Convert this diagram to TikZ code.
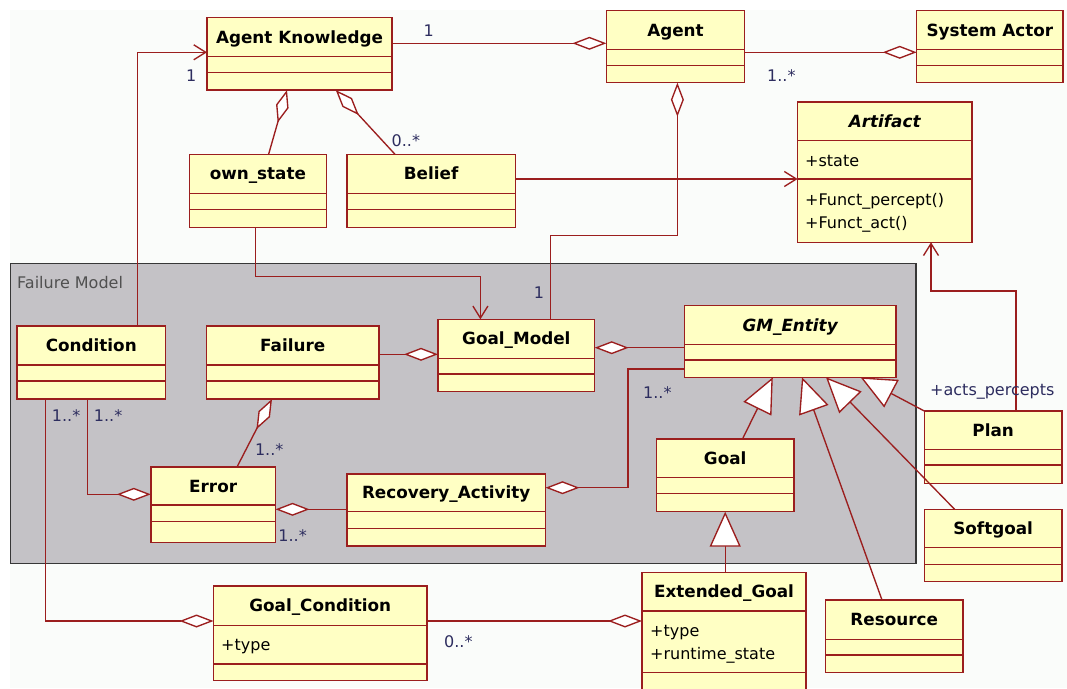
\documentclass[tikz,border=0pt]{standalone}
\usepackage{fontspec}
\setmainfont{DejaVu Sans}
\usetikzlibrary{arrows.meta}

\definecolor{umlred}{RGB}{155,30,30}
\definecolor{umlfill}{RGB}{255,255,196}
\definecolor{pkgfill}{RGB}{196,194,198}
\definecolor{pkgline}{RGB}{55,55,55}
\definecolor{pkgtext}{RGB}{80,80,80}
\definecolor{multc}{RGB}{45,45,95}
\definecolor{paper}{RGB}{250,252,250}

\tikzset{
  classbox/.style={rectangle, draw=umlred, fill=umlfill, line width=1.5pt, inner sep=0pt, outer sep=0pt},
  boxline/.style={draw=umlred, line width=1.5pt},
  titletext/.style={font=\fontsize{16.8}{18}\selectfont\bfseries, anchor=base, inner sep=0pt},
  ititle/.style={font=\fontsize{16.8}{18}\selectfont\bfseries\itshape, anchor=base, inner sep=0pt},
  attrtext/.style={font=\fontsize{16}{18}\selectfont, anchor=base west, inner sep=0pt},
  mult/.style={font=\fontsize{16}{18}\selectfont, text=multc, anchor=base west, inner sep=0pt},
  link/.style={draw=umlred, line width=1.35pt},
  aggr/.style={link, -{Diamond[length=34pt,width=13pt,fill=white]}},
  nav/.style={link, -{Straight Barb[length=12pt,width=15pt]}},
  gen/.style={link, -{Triangle[length=35pt,width=31pt,fill=white]}},
}

% class box: name, x1, y1, x2, y2, first separator, second separator, title, title style
\newcommand\umlclass[9]{%
  \node[classbox, anchor=north west, minimum width={#4-#2}, minimum height={#5-#3}] (#1) at (#2,#3) {};
  \draw[boxline] (#2,#6) -- (#4,#6) (#2,#7) -- (#4,#7);
  \node[#9] at ({(#2+#4)/2},{(#3+#6)/2+6}) {#8};
}

\begin{document}
\begin{tikzpicture}[x=1pt,y=-1pt]
\useasboundingbox (0,0) rectangle (1067,688);
\clip (0,0) rectangle (1067,688);
\fill[white] (0,0) rectangle (1067,688);
\fill[paper] (10,10) rectangle (1067,688);

% package frame
\draw[fill=pkgfill, draw=pkgline, line width=1.6pt] (10.3,263.3) rectangle (915.7,563.3);
\node[attrtext, text=pkgtext] (pkglabel) at (17,288.3) {Failure Model};

% classes
\umlclass{ak}{207}{17.3}{392}{90}{56.7}{72.3}{Agent Knowledge}{titletext}
\umlclass{agent}{606.4}{10.7}{744.5}{82.7}{49.3}{65.3}{Agent}{titletext}
\umlclass{sys}{916.7}{10.7}{1063}{82.7}{49.3}{65.3}{System Actor}{titletext}
\umlclass{art}{797.6}{102}{971.8}{242.3}{140.3}{179}{Artifact}{ititle}
\node[attrtext] at (805,166) {+state};
\node[attrtext] at (805,205.5) {+Funct\_percept()};
\node[attrtext] at (805,228) {+Funct\_act()};
\umlclass{os}{189.4}{154.3}{326.4}{227.3}{193.3}{209.3}{own\_state}{titletext}
\umlclass{bel}{346.8}{154.3}{515.5}{227.3}{193.3}{209.3}{Belief}{titletext}
\umlclass{cond}{17.2}{326}{165.3}{399}{365}{381}{Condition}{titletext}
\umlclass{fail}{206.6}{326}{378.8}{399}{365}{381}{Failure}{titletext}
\umlclass{gm}{438}{319.3}{594.7}{391.7}{358.3}{374}{Goal\_Model}{titletext}
\umlclass{gme}{684.3}{305.7}{896}{377.3}{344.3}{360}{GM\_Entity}{ititle}
\umlclass{err}{150.8}{467}{275.5}{542.3}{505}{521.7}{Error}{titletext}
\umlclass{rec}{346.8}{474}{545.5}{546}{511.7}{528.3}{Recovery\_Activity}{titletext}
\umlclass{goal}{656.4}{439}{794}{511.7}{477.3}{493.3}{Goal}{titletext}
\umlclass{plan}{924.3}{411}{1062}{483.3}{449.3}{465}{Plan}{titletext}
\umlclass{soft}{924.3}{509.3}{1062}{581.7}{547.7}{564.3}{Softgoal}{titletext}
\umlclass{gc}{213.5}{586}{427}{680.7}{625.7}{664}{Goal\_Condition}{titletext}
\node[attrtext] at (221,650) {+type};
\umlclass{eg}{642}{572.3}{806}{700}{611}{672.3}{Extended\_Goal}{titletext}
\node[attrtext] at (650,636) {+type};
\node[attrtext] at (650,659.3) {+runtime\_state};
\umlclass{res}{825.5}{600}{962.9}{672.7}{639.3}{655}{Resource}{titletext}

% associations and navigations
\draw[nav] (137.7,0 |- cond.north) -- (137.7,52.3) -- (ak.west |- 0,52.3);
\node[mult] at (186,81.7) {1};
\draw[aggr] (ak.east |- 0,43.3) -- (agent.west |- 0,43.3);
\node[mult] at (423.5,36) {1};
\draw[aggr] (agent.east |- 0,52.3) -- (sys.west |- 0,52.3);
\node[mult] at (767,81.7) {1..*};
\draw[aggr] (268.6,0 |- os.north) -- (287,0 |- ak.south);
\draw[aggr] (395,0 |- bel.north) -- (335.7,0 |- ak.south);
\node[mult] at (391.5,146.7) {0..*};
\draw[nav] (bel.east |- 0,179) -- (art.west |- 0,179);
\draw[nav] (255.5,0 |- os.south) -- (255.5,276.7) -- (480.4,276.7) -- (480.4,0 |- gm.north);
\draw[aggr] (550.7,0 |- gm.north) -- (550.7,235.3) -- (677.4,235.3) -- (677.4,0 |- agent.south);
\node[mult] at (533.7,298) {1};
\draw[nav] (1016,0 |- plan.north) -- (1016,291) -- (931,291) -- (931,0 |- art.south);
\node[mult] at (930,395.5) {+acts\_percepts};

\draw[aggr] (fail.east |- 0,354.3) -- (gm.west |- 0,354.3);
\draw[aggr] (gme.west |- 0,347.7) -- (gm.east |- 0,347.7);
\draw[aggr] (237,0 |- err.north) -- (272,0 |- fail.south);
\node[mult] at (254.8,455) {1..*};
\draw[aggr] (87.8,0 |- cond.south) -- (87.8,494.3) -- (err.west |- 0,494.3);
\node[mult] at (51.7,421.7) {1..*};
\node[mult] at (93.7,421.7) {1..*};
\draw[aggr] (rec.west |- 0,509.3) -- (err.east |- 0,509.3);
\node[mult] at (278.2,541.7) {1..*};
\draw[aggr] (gme.west |- 0,369) -- (628,369) -- (628,487.7) -- (rec.east |- 0,487.7);
\node[mult] at (643,398.3) {1..*};

% generalizations
\draw[gen] (742.5,0 |- goal.north) -- (772.8,0 |- gme.south);
\draw[gen] (725.2,0 |- eg.north) -- (725.2,0 |- goal.south);
\draw[gen] (882,0 |- res.north) -- (802,0 |- gme.south);
\draw[gen] (954.6,0 |- soft.north) -- (826,0 |- gme.south);
\draw[gen] (plan.north west) -- (860.6,0 |- gme.south);

% goal conditions
\draw[aggr] (45.8,0 |- cond.south) -- (45.8,621) -- (gc.west |- 0,621);
\draw[aggr] (gc.east |- 0,621) -- (eg.west |- 0,621);
\node[mult] at (444,647.3) {0..*};
\end{tikzpicture}
\end{document}
